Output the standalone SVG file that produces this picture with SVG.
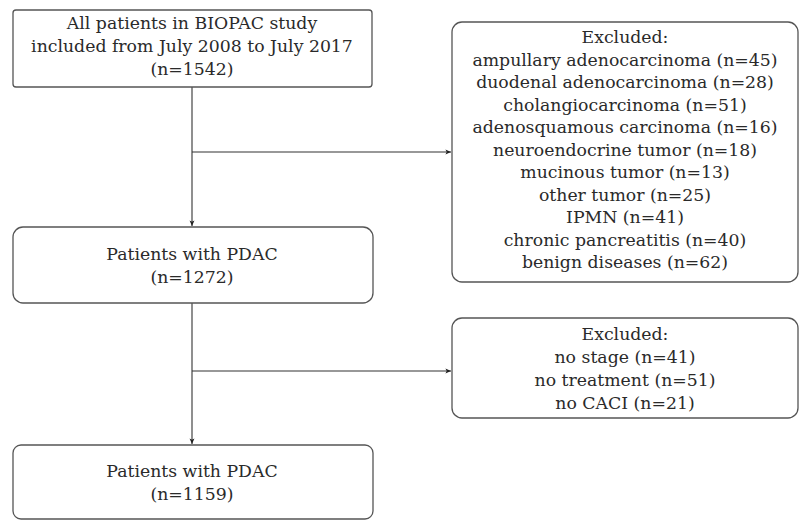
<svg xmlns="http://www.w3.org/2000/svg" width="802" height="525" viewBox="0 0 802 525">
<defs>
<marker id="arr" viewBox="0 0 10 10" refX="9" refY="5" markerWidth="7" markerHeight="7" orient="auto" markerUnits="userSpaceOnUse">
<path d="M1,1.5 L9,5 L1,8.5 L3,5 Z" fill="#222"/>
</marker>
<style>
.box{fill:#fff;stroke:#555;stroke-width:1.3}
.t{font-family:"DejaVu Serif","Liberation Serif",serif;font-size:17.3px;fill:#2a2a2a;text-anchor:middle;dominant-baseline:central}
.c{fill:none;stroke:#333;stroke-width:1.1}
</style>
</defs>
<rect width="802" height="525" fill="#fff"/>
<g id="connectors">
<line class="c" x1="192" y1="87" x2="192" y2="226" marker-end="url(#arr)"/>
<line class="c" x1="192" y1="152" x2="451" y2="152" marker-end="url(#arr)"/>
<line class="c" x1="192" y1="303" x2="192" y2="444" marker-end="url(#arr)"/>
<line class="c" x1="192" y1="371" x2="451" y2="371" marker-end="url(#arr)"/>
</g>
<g id="n1">
<rect class="box" x="13" y="10" width="359" height="77" rx="3"/>
<text class="t" x="192" y="23">All patients in BIOPAC study</text>
<text class="t" x="192" y="46">included from July 2008 to July 2017</text>
<text class="t" x="192" y="69">(n=1542)</text>
</g>
<g id="n2">
<rect class="box" x="13" y="227" width="360" height="76" rx="10"/>
<text class="t" x="192" y="253.5">Patients with PDAC</text>
<text class="t" x="192" y="276.5">(n=1272)</text>
</g>
<g id="n3">
<rect class="box" x="452" y="22" width="346" height="260" rx="10"/>
<text class="t" x="625" y="37">Excluded:</text>
<text class="t" x="625" y="59.5">ampullary adenocarcinoma (n=45)</text>
<text class="t" x="625" y="82">duodenal adenocarcinoma (n=28)</text>
<text class="t" x="625" y="104.5">cholangiocarcinoma (n=51)</text>
<text class="t" x="625" y="127">adenosquamous carcinoma (n=16)</text>
<text class="t" x="625" y="149.5">neuroendocrine tumor (n=18)</text>
<text class="t" x="625" y="172">mucinous tumor (n=13)</text>
<text class="t" x="625" y="194.5">other tumor (n=25)</text>
<text class="t" x="625" y="217">IPMN (n=41)</text>
<text class="t" x="625" y="239.5">chronic pancreatitis (n=40)</text>
<text class="t" x="625" y="262">benign diseases (n=62)</text>
</g>
<g id="n4">
<rect class="box" x="452" y="318" width="346" height="100" rx="10"/>
<text class="t" x="625" y="333.5">Excluded:</text>
<text class="t" x="625" y="356.5">no stage (n=41)</text>
<text class="t" x="625" y="379.5">no treatment (n=51)</text>
<text class="t" x="625" y="402.5">no CACI (n=21)</text>
</g>
<g id="n5">
<rect class="box" x="13" y="445" width="360" height="74" rx="8"/>
<text class="t" x="192" y="470.5">Patients with PDAC</text>
<text class="t" x="192" y="493.5">(n=1159)</text>
</g>
</svg>
